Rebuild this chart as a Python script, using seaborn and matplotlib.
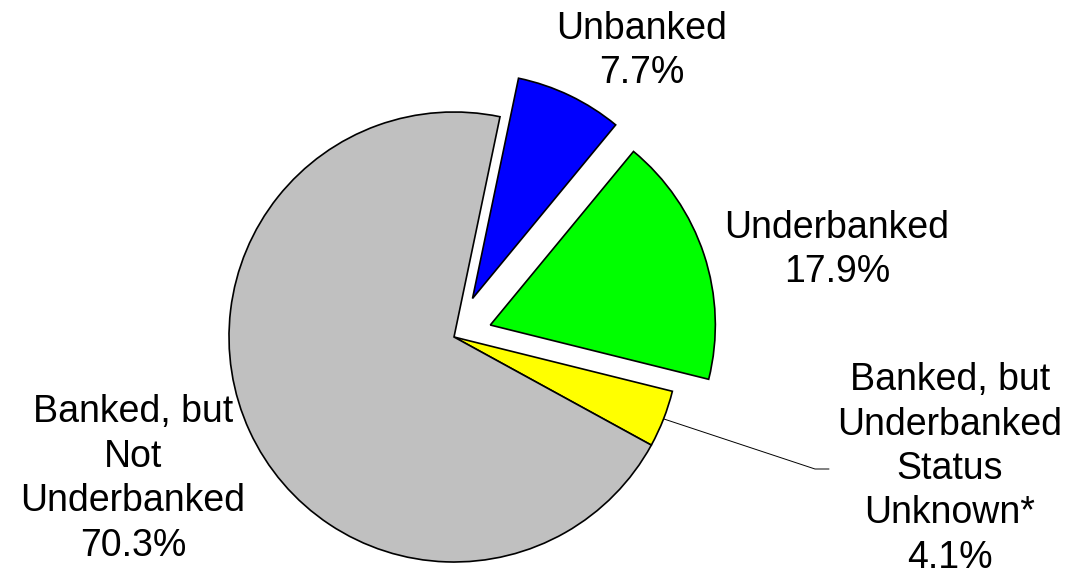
import matplotlib
import numpy as np
import seaborn as sns

matplotlib.use("Agg")
import matplotlib.pyplot as plt

labels = ["Unbanked", "Underbanked", "Banked, but\nUnderbanked\nStatus\nUnknown*", "Banked, but\nNot\nUnderbanked"]
shares = [7.7, 17.9, 4.1, 70.3]
colors = ["#0000FF", "#00FF00", "#FFFF00", "#C0C0C0"]
explode = [0.19, 0.17, 0.0, 0.0]  # fraction of radius

W, H = 1078, 575
CX, CY, R = 454, H - 337, 225


def main() -> None:
    sns.set_theme(style="white")
    plt.rcParams["font.family"] = ["Liberation Sans", "DejaVu Sans"]
    plt.rcParams["text.color"] = "black"

    fig = plt.figure(figsize=(W / 100, H / 100), dpi=100)
    ax = fig.add_axes([0, 0, 1, 1])
    wedges, _ = ax.pie(
        shares,
        colors=colors,
        explode=[e * R for e in explode],
        startangle=78.2,
        counterclock=False,
        center=(CX, CY),
        radius=R,
        wedgeprops={"edgecolor": "black", "linewidth": 1.2},
        frame=True,
    )
    ax.set_xlim(0, W)
    ax.set_ylim(0, H)
    ax.set_aspect("equal")
    ax.axis("off")

    fs = 27
    ls = 1.3
    ax.text(642, H - 51, f"{labels[0]}\n{shares[0]}%", ha="center", va="center", fontsize=fs, linespacing=ls)
    ax.text(837, H - 250, f"{labels[1]}\n{shares[1]}%", ha="center", va="center", fontsize=fs, linespacing=ls)
    ax.text(950, H - 469, f"{labels[2]}\n{shares[2]}%", ha="center", va="center", fontsize=fs, linespacing=ls)
    ax.text(133, H - 479, f"{labels[3]}\n{shares[3]}%", ha="center", va="center", fontsize=fs, linespacing=ls)

    # leader line from the yellow slice to its label
    w = wedges[2]
    mid = np.deg2rad((w.theta1 + w.theta2) / 2)
    x0 = w.center[0] + w.r * np.cos(mid)
    y0 = w.center[1] + w.r * np.sin(mid)
    ax.plot([x0, 815, 829], [y0, H - 469, H - 469], color="black", linewidth=0.7)

    fig.savefig("out.png", dpi=100)
    plt.close(fig)


if __name__ == "__main__":
    main()
